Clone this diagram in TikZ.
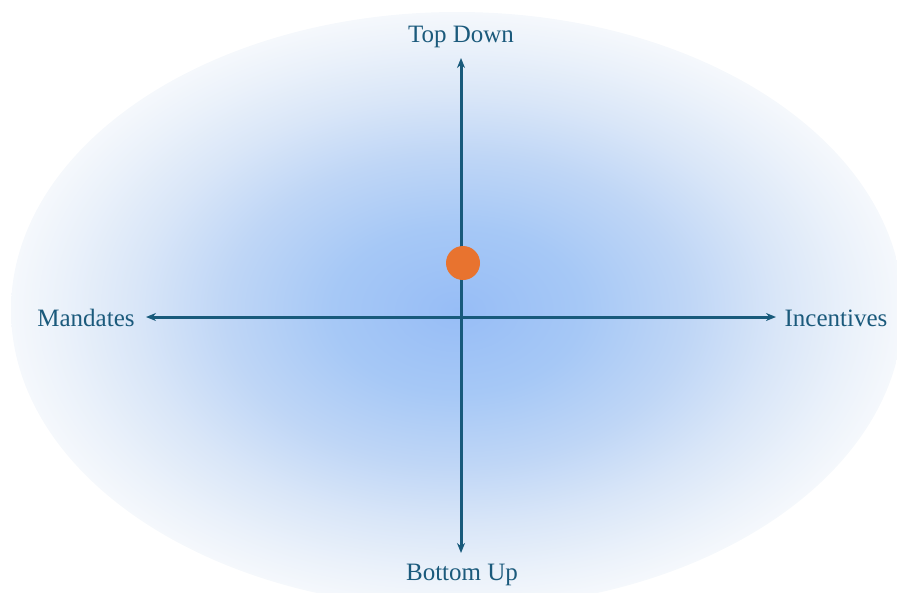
\documentclass[tikz,border=0pt]{standalone}
\usepackage{fontspec}
\setmainfont{Liberation Serif}
\usetikzlibrary{arrows.meta}
\definecolor{glowA}{HTML}{97BDF6}
\definecolor{glowB}{HTML}{A6C8F6}
\definecolor{glowC}{HTML}{BFD6F6}
\definecolor{glowD}{HTML}{D9E6F8}
\definecolor{glowE}{HTML}{EAF1FA}
\definecolor{glowF}{HTML}{F5F8FC}
\definecolor{axiscol}{HTML}{185A7B}
\definecolor{labelcol}{HTML}{1B5A7C}
\definecolor{dotcol}{HTML}{E8732F}
\pgfdeclareradialshading{glow}{\pgfpoint{0bp}{0bp}}{%
  color(0bp)=(glowA); color(7bp)=(glowB); color(13bp)=(glowC);
  color(18bp)=(glowD); color(22bp)=(glowE); color(25bp)=(glowF); color(50bp)=(glowF)}
\tikzset{
  axislabel/.style={text=labelcol, font=\fontsize{25}{30}\selectfont, inner sep=0pt},
  axisline/.style={draw=axiscol, line width=3pt, {Stealth[length=10pt,width=8pt]}-{Stealth[length=10pt,width=8pt]}},
  marker/.style={circle, fill=dotcol, minimum size=34pt, inner sep=0pt}
}
\begin{document}
\begin{tikzpicture}[x=1pt,y=-1pt]
\useasboundingbox (0,0) rectangle (897,592);
\shade[shading=glow] (457,310) ellipse [x radius=446, y radius=298];
\node[axislabel] (td) at (461,37) {Top Down};
\node[axislabel] (bu) at (462,575) {Bottom Up};
\node[axislabel] (md) at (86,318) {Mandates};
\node[axislabel] (ic) at (836,318) {Incentives};
\coordinate (ttip) at (461,58);
\coordinate (btip) at (461,553);
\coordinate (ltip) at (146,317);
\coordinate (rtip) at (776,317);
\draw[axisline] (ttip) -- (btip);
\draw[axisline] (ltip) -- (rtip);
\node[marker] (dot) at (463,263) {};
\end{tikzpicture}
\end{document}
